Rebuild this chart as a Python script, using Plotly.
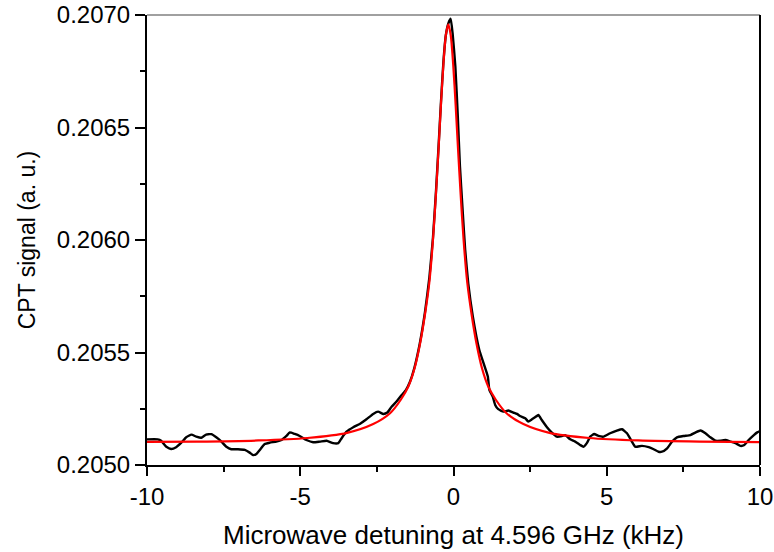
import plotly.graph_objects as go

# Measured CPT signal (black)
meas_x = [-10.0, -9.65, -9.54, -9.37, -9.21, -9.05, -8.88, -8.72, -8.55, -8.39, -8.23, -8.07, -7.90, -7.74,
          -7.58, -7.41, -7.25, -7.03, -6.81, -6.65, -6.54, -6.43, -6.32, -6.16, -6.00, -5.78, -5.61, -5.45,
          -5.34, -5.18, -5.02, -4.80, -4.58, -4.36, -4.14, -3.93, -3.76, -3.65, -3.49, -3.27, -3.06, -2.84,
          -2.62, -2.46, -2.29, -2.16, -2.02, -1.86, -1.69, -1.55, -1.42, -1.28, -1.10, -0.93, -0.79, -0.67,
          -0.57, -0.49, -0.41, -0.33, -0.25, -0.17, -0.09, -0.03, 0.06, 0.14, 0.21, 0.29, 0.38, 0.48, 0.63,
          0.84, 1.12, 1.17, 1.28, 1.36, 1.46, 1.63, 1.79, 1.95, 2.07, 2.17, 2.34, 2.44, 2.56, 2.66, 2.77,
          2.88, 3.05, 3.21, 3.37, 3.54, 3.64, 3.81, 3.97, 4.13, 4.24, 4.35, 4.46, 4.59, 4.73, 4.90, 5.11,
          5.33, 5.50, 5.66, 5.82, 5.93, 6.15, 6.37, 6.53, 6.69, 6.80, 6.97, 7.13, 7.29, 7.51, 7.73, 7.89,
          8.06, 8.22, 8.38, 8.55, 8.71, 8.87, 9.04, 9.20, 9.36, 9.49, 9.63, 9.80, 9.91, 10.0]
meas_y = [0.205114, 0.205114, 0.205108, 0.205081, 0.205071, 0.205079, 0.205099, 0.205123, 0.205135, 0.205126,
          0.205121, 0.205135, 0.205137, 0.205123, 0.205105, 0.205081, 0.205070, 0.205070, 0.205067, 0.205055,
          0.205044, 0.205049, 0.205067, 0.205093, 0.205099, 0.205104, 0.205111, 0.205129, 0.205145, 0.205138,
          0.205129, 0.205111, 0.205101, 0.205104, 0.205108, 0.205097, 0.205097, 0.205119, 0.205148, 0.205168,
          0.205182, 0.205203, 0.205227, 0.205237, 0.205227, 0.205233, 0.205259, 0.205282, 0.205311, 0.205334,
          0.205370, 0.205430, 0.205540, 0.205680, 0.205830, 0.206010, 0.206220, 0.206410, 0.206610, 0.206790,
          0.206910, 0.206962, 0.206983, 0.206919, 0.206772, 0.206550, 0.206327, 0.206149, 0.205957, 0.205808,
          0.205660, 0.205512, 0.205393, 0.205334, 0.205304, 0.205267, 0.205248, 0.205237, 0.205242, 0.205233,
          0.205227, 0.205218, 0.205208, 0.205193, 0.205203, 0.205212, 0.205222, 0.205200, 0.205168, 0.205144,
          0.205126, 0.205129, 0.205133, 0.205114, 0.205104, 0.205089, 0.205081, 0.205097, 0.205126, 0.205138,
          0.205129, 0.205126, 0.205141, 0.205153, 0.205159, 0.205141, 0.205104, 0.205081, 0.205085, 0.205079,
          0.205070, 0.205059, 0.205059, 0.205074, 0.205104, 0.205123, 0.205129, 0.205133, 0.205144, 0.205153,
          0.205141, 0.205123, 0.205108, 0.205108, 0.205111, 0.205104, 0.205097, 0.205085, 0.205089, 0.205111,
          0.205133, 0.205145, 0.205151]

# Lorentzian fit (red)
fit_x = [-10.0, -8.37, -6.37, -4.77, -3.47, -2.62, -2.07, -1.72, -1.47, -1.27, -1.09, -0.93, -0.79, -0.67,
         -0.57, -0.49, -0.41, -0.33, -0.25, -0.17, -0.09, -0.01, 0.07, 0.15, 0.23, 0.33, 0.45, 0.59, 0.75,
         0.93, 1.13, 1.38, 1.73, 2.28, 3.13, 4.43, 6.03, 8.03, 10.0]
fit_y = [0.205103, 0.205104, 0.205109, 0.205120, 0.205143, 0.205182, 0.205230, 0.205290, 0.205350, 0.205430,
         0.205540, 0.205670, 0.205810, 0.206000, 0.206210, 0.206400, 0.206600, 0.206780, 0.206910, 0.206958,
         0.206910, 0.206780, 0.206600, 0.206400, 0.206210, 0.206000, 0.205810, 0.205670, 0.205540, 0.205430,
         0.205350, 0.205290, 0.205230, 0.205182, 0.205143, 0.205120, 0.205109, 0.205104, 0.205102]

x_ticks = [-10, -5, 0, 5, 10]
y_ticks = [0.2050, 0.2055, 0.2060, 0.2065, 0.2070]

fig = go.Figure()
fig.add_trace(go.Scatter(x=meas_x, y=meas_y, mode="lines",
                         line=dict(color="black", width=2.4, shape="spline", smoothing=0.4),
                         showlegend=False))
fig.add_trace(go.Scatter(x=fit_x, y=fit_y, mode="lines",
                         line=dict(color="#ff0000", width=2.2, shape="spline", smoothing=0.8),
                         showlegend=False))

fam = "Liberation Sans, Arial, sans-serif"
tickfont = dict(family=fam, size=24, color="black")

fig.update_layout(
    width=774, height=552,
    margin=dict(l=147, r=14, t=15, b=87),
    paper_bgcolor="white", plot_bgcolor="white",
    font=tickfont,
    xaxis=dict(range=[-10, 10], tickvals=x_ticks, ticktext=[str(v) for v in x_ticks],
               ticks="outside", ticklen=9, tickwidth=1.5, tickcolor="black", tickfont=tickfont,
               ticklabeloverflow="allow",
               minor=dict(dtick=2.5, tick0=-10, ticks="outside", ticklen=5, tickwidth=1.5, tickcolor="black",
                          showgrid=False),
               showline=True, linecolor="black", linewidth=2, showgrid=False, zeroline=False,
               automargin=False,
               title=dict(text="Microwave detuning at 4.596 GHz (kHz)",
                          font=dict(family=fam, size=26, color="black"), standoff=17)),
    yaxis=dict(range=[0.2050, 0.2070], tickvals=y_ticks, ticktext=["%.4f" % v for v in y_ticks],
               ticks="outside", ticklen=10, tickwidth=1.5, tickcolor="black", tickfont=tickfont,
               ticklabeloverflow="allow",
               minor=dict(dtick=0.00025, tick0=0.2050, ticks="outside", ticklen=5, tickwidth=1.5,
                          tickcolor="black", showgrid=False),
               showline=True, linecolor="black", linewidth=2, showgrid=False, zeroline=False,
               automargin=False,
               title=dict(text="CPT signal (a. u.)", font=dict(family=fam, size=23, color="black"),
                          standoff=15)),
    shapes=[
        dict(type="line", xref="paper", yref="paper", x0=0, x1=1, y0=1, y1=1,
             line=dict(color="#808080", width=1.5)),
        dict(type="line", xref="paper", yref="paper", x0=1, x1=1, y0=0, y1=1,
             line=dict(color="black", width=2)),
    ],
)

fig.write_html("out.html", config={"displayModeBar": False},
               post_script="document.body.style.margin='0px';document.body.style.padding='0px';")
